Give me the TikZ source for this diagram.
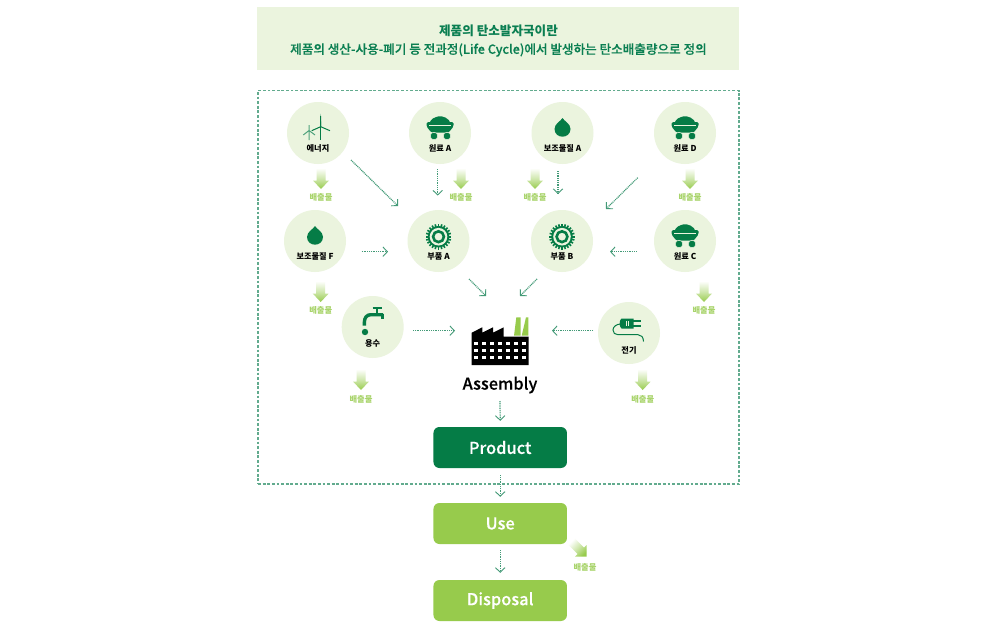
\documentclass[tikz,border=0pt]{standalone}
\usepackage{fontspec}
\setmainfont{Noto Sans CJK KR}
\newfontfamily\krmed[FakeBold=0.25]{Noto Sans CJK KR Medium}
\usetikzlibrary{arrows.meta,calc,shadings}
\definecolor{paleg}{HTML}{EBF4DE}
\definecolor{deepg}{HTML}{057C46}
\definecolor{limeg}{HTML}{97CB4C}
\definecolor{connc}{HTML}{2E8F68}
\definecolor{emisc}{HTML}{A9D46C}
\definecolor{titlec}{HTML}{0B7F52}
\tikzset{
  srcnode/.style={circle,fill=paleg,minimum size=62pt,inner sep=0pt},
  srclabel/.style={font=\bfseries\fontsize{8.2}{9}\selectfont,text=black,inner sep=0pt},
  emislabel/.style={font=\bfseries\fontsize{8.3}{9}\selectfont,text=emisc,inner sep=0pt},
  flowbox/.style={rounded corners=6pt,minimum width=133.5pt,minimum height=41pt,inner sep=0pt,text=white,font=\krmed\fontsize{16.4}{20}\selectfont},
  conn/.style={draw=connc!90,line width=1.2pt,dash pattern=on 1pt off 0.8pt,-{Straight Barb[length=4.5pt,width=9.5pt,line width=0.9pt]}},
}
\newcommand{\emisarrow}[3]{% x, y tip, label y
  \shade[top color=white,bottom color=limeg,middle color=limeg!45]
   (#1-4.5,#2-21)--(#1+4.5,#2-21)--(#1+4.5,#2-8.5)--(#1+8,#2-8.5)--(#1,#2)--(#1-8,#2-8.5)--(#1-4.5,#2-8.5)--cycle;
  \node[emislabel] at (#1,#3) {배출물};
}
\newcommand{\iconcart}[2]{\begin{scope}[shift={(#1,#2)}]
  \fill[deepg] (-11,-9) .. controls (-9,-15) and (-5,-15.5) .. (-2,-16.5) .. controls (3,-17.5) and (9,-15) .. (11,-9) -- cycle;
  \fill[deepg,rounded corners=1.5pt] (-13.5,-11)--(13.5,-11)--(13.5,-6.5)--(8.5,-0.3)--(-8.5,-0.3)--(-13.5,-6.5)--cycle;
  \draw[paleg,line width=0.45pt] (-11,-8)--(11,-8);
  \filldraw[deepg,draw=paleg,line width=0.5pt] (-6,3) circle (3.8) (7,3) circle (3.8);
\end{scope}}
\newcommand{\icondrop}[2]{\begin{scope}[shift={(#1,#2)}]
  \fill[deepg] (0,-15) .. controls (1.5,-12) and (8,-9.5) .. (8,-4) .. controls (8,1) and (4,3.7) .. (0,3.7) .. controls (-4,3.7) and (-8,1) .. (-8,-4) .. controls (-8,-9.5) and (-1.5,-12) .. (0,-15) -- cycle;
\end{scope}}
\newcommand{\icongear}[2]{\begin{scope}[shift={(#1,#2-4.3)}]
  \foreach \a in {0,15,...,345}{\draw[deepg,line width=1.6pt] (\a:9)--(\a:12.8);}
  \fill[deepg] (0,0) circle (10.8);
  \fill[paleg] (0,0) circle (8.8);
  \draw[deepg,line width=2.6pt] (0,0) circle (5.4);
\end{scope}}
\begin{document}
\begin{tikzpicture}[x=1pt,y=-1pt]
\useasboundingbox (0,0) rectangle (1000,626);
\fill[white] (0,0) rectangle (1000,626);
% header
\node[fill=paleg,minimum width=482pt,minimum height=63pt,inner sep=0pt] (hdr) at (498,38.5) {};
\node[font=\bfseries\fontsize{12.6}{14}\selectfont,text=titlec,inner sep=0pt] (t1) at (498.5,30.5) {제품의 탄소발자국이란};
\node[font=\krmed\fontsize{12.6}{14}\selectfont,text=titlec,inner sep=0pt] (t2) at (498.5,50) {제품의 생산-사용-폐기 등 전과정(Life Cycle)에서 발생하는 탄소배출량으로 정의};
% dashed frame
\node[draw=connc!75,line width=1.5pt,dash pattern=on 2.8pt off 1.8pt,minimum width=481pt,minimum height=393.5pt,inner sep=0pt] (frame) at (498.6,287.3) {};
% source circles
\node[srcnode] (en) at (318,133) {};
\node[srcnode] (ra) at (440,133) {};
\node[srcnode] (sa) at (562.5,133) {};
\node[srcnode] (rd) at (685,133) {};
\node[srcnode] (sf) at (315,241) {};
\node[srcnode] (pa) at (438.5,241) {};
\node[srcnode] (pb) at (562,241) {};
\node[srcnode] (rc) at (685,241) {};
\node[srcnode] (wa) at (372.7,327) {};
\node[srcnode] (el) at (629,333) {};
% labels
\node[srclabel] (enl) at (318,148.5) {에너지};
\node[srclabel] (ral) at (440,148.5) {원료 A};
\node[srclabel] (sal) at (562.5,148.5) {보조물질 A};
\node[srclabel] (rdl) at (685,148.5) {원료 D};
\node[srclabel] (sfl) at (315,256.5) {보조물질 F};
\node[srclabel] (pal) at (438.5,256.5) {부품 A};
\node[srclabel] (pbl) at (562,256.5) {부품 B};
\node[srclabel] (rcl) at (685,256.5) {원료 C};
\node[srclabel] (wal) at (372.7,343.3) {용수};
\node[srclabel] (ell) at (629,350) {전기};
% icons
\iconcart{440}{133}\iconcart{685}{133}\iconcart{685}{241}
\icondrop{562.5}{133}\icondrop{315}{241}
\icongear{438.5}{241}\icongear{562}{241}
% wind turbines
\begin{scope}[shift={(318,133)}]
  \draw[deepg!70,line width=1pt] (-9,-2.5)--(-9,7) (-9,-2.5)--(-9,-8) (-9,-2.5)--(-14.7,2) (-9,-2.5)--(-3,2);
  \draw[deepg,line width=1.4pt] (2.7,-6.3)--(2.7,7);
  \fill[deepg] (2.2,-6.3)--(2.7,-19.5)--(3.2,-6.3)--cycle;
  \draw[deepg,line width=1pt] (2.7,-6.3)--(-6.3,-2.3) (2.7,-6.3)--(12,-2.3) (2.7,-6.3)--(2.7,-17);
\end{scope}
% faucet
\begin{scope}[shift={(372.7,327)}]
  \draw[deepg,line width=1.8pt] (0,-19.3)--(9,-19.3);
  \draw[deepg,line width=2.2pt] (4.3,-19.3)--(4.3,-13);
  \draw[deepg,line width=3.4pt] (10.5,-12.3)--(-2,-12.3) .. controls (-6,-12.3) and (-8.3,-9) .. (-8.3,-5) -- (-8.3,-1.5);
  \draw[deepg,line width=2.4pt] (9.7,-13)--(9.7,-8);
  \fill[deepg] (-7.7,5) circle (3.2);
\end{scope}
% plug
\begin{scope}[shift={(629,333)}]
  \fill[deepg] (-7.5,-14.5) -- (4.5,-14.5) -- (4.5,-4.5) -- (-7.5,-4.5) .. controls (-10,-6) and (-10,-13) .. (-7.5,-14.5) -- cycle;
  \draw[paleg,line width=0.9pt] (-3,-12)--(-3,-7) (-0.5,-12)--(-0.5,-7);
  \draw[deepg,line width=1.7pt] (4,-11.7)--(11.5,-11.7) (4,-6.7)--(11.5,-6.7);
  \draw[deepg,line width=1pt] (-8,-9) .. controls (-13,-9) and (-16,-6) .. (-16,-3) .. controls (-16,0) and (-14,1.7) .. (-11,1.7) -- (9,1.7) .. controls (12,1.7) and (14.5,4) .. (14.5,8.5);
\end{scope}
% factory
\coordinate (fac) at (500,346);
\fill[limeg] (516.3,317.3)--(520.7,317.3)--(520.7,335.7)--(514,335.7)--cycle;
\fill[limeg] (526,317.3)--(528.3,317.3)--(528.3,335.7)--(521.7,335.7)--cycle;
\fill[black] (471.7,332.7)--(482.3,327.3)--(482.3,332.7)--(493,327.3)--(493,332.7)--(503.7,327.3)--(503.7,336.7)--(528.7,336.7)--(528.7,365)--(471.7,365)--cycle;
\foreach \yy in {343.3,350.3,357.3}{\foreach \i in {0,...,6}{\fill[white] ({476+8*\i-1.6},\yy-1.6) rectangle ++(3.2,3.2);}}
\node[font=\krmed\fontsize{16.3}{19}\selectfont,text=black,inner sep=0pt] (asm) at (500,385) {Assembly};
% boxes
\node[flowbox,fill=deepg] (prod) at (500.2,447.5) {\raisebox{-0.8pt}{Product}};
\node[flowbox,fill=limeg] (use) at (500.2,523.5) {\raisebox{-1.6pt}{Use}};
\node[flowbox,fill=limeg] (disp) at (500.2,600.5) {\raisebox{-2pt}{Disposal}};
% connectors
\draw[conn] ($(en)+(33,27)$) -- ($(pa)+(-40.5,-35)$);
\draw[conn] ($(ra)+(-2.3,36)$) -- ($(pa)+(-0.8,-45.5)$);
\draw[conn] ($(sa)+(-4.5,38)$) -- ($(pb)+(-4,-47)$);
\draw[conn] ($(rd)+(-47.3,44.7)$) -- ($(pb)+(44,-32)$);
\draw[conn] ($(sf)+(46.7,10.7)$) -- ($(pa)+(-50.5,10.7)$);
\draw[conn] ($(rc)+(-48.3,10.7)$) -- ($(pb)+(48,10.7)$);
\draw[conn] ($(pa)+(30.5,38)$) -- ($(fac)+(-14,-50)$);
\draw[conn] ($(pb)+(-25,38)$) -- ($(fac)+(20,-50)$);
\draw[conn] ($(wa)+(40.3,3.7)$) -- ($(fac)+(-45,-15.3)$);
\draw[conn] ($(el)+(-36,-2.3)$) -- ($(fac)+(52,-15.3)$);
\draw[conn] ($(asm)+(0,16)$) -- ($(prod.north)+(0,-6)$);
\draw[conn] ($(prod.south)+(0,7)$) -- ($(use.north)+(0,-6)$);
\draw[conn] ($(use.south)+(0,6)$) -- ($(disp.north)+(0,-7)$);
% emissions
\emisarrow{321}{189}{197}
\emisarrow{461}{189}{197}
\emisarrow{535}{189}{197}
\emisarrow{690}{189}{197}
\emisarrow{320.7}{302}{310.7}
\emisarrow{361}{390}{399}
\emisarrow{704}{302}{310.7}
\emisarrow{642.7}{390}{399}
\shade[top color=white,bottom color=limeg,middle color=limeg!45,shading angle=45]
  (575,538.6)--(584.05,547.65)--(586.7,545)--(586.7,556.7)--(575,556.7)--(577.65,554.05)--(568.6,545)--cycle;
\node[emislabel] at (585,567) {배출물};
\end{tikzpicture}
\end{document}
